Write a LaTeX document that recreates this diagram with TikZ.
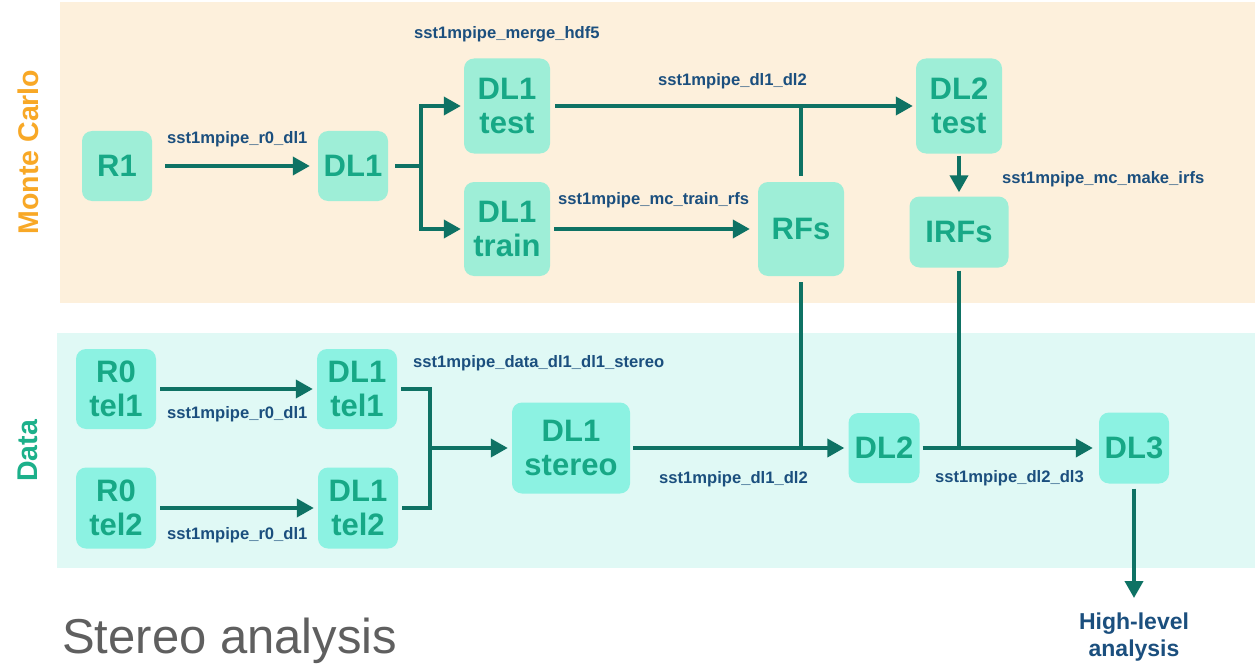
\documentclass[tikz,border=0pt]{standalone}
\usepackage{fontspec}
\setmainfont{Liberation Sans}
\usetikzlibrary{arrows.meta}
\definecolor{mcbg}{HTML}{FDF0DC}
\definecolor{databg}{HTML}{E0F9F5}
\definecolor{mcbox}{HTML}{9EEED7}
\definecolor{databox}{HTML}{8CF2E2}
\definecolor{boxtxt}{HTML}{17A886}
\definecolor{arrc}{HTML}{0E7264}
\definecolor{lblc}{HTML}{1B4F7E}
\definecolor{mcorange}{HTML}{F8A826}
\definecolor{datagreen}{HTML}{1CB08A}
\definecolor{titlegray}{HTML}{5F5F5F}
\tikzset{
  mcb/.style={fill=mcbox, rounded corners=10pt, inner sep=0pt, align=center,
    text=boxtxt, font=\fontsize{31}{34}\selectfont\bfseries},
  dtb/.style={mcb, fill=databox},
  ln/.style={draw=arrc, line width=3.8pt},
  arr/.style={ln, -{Triangle[length=17pt,width=18pt]}},
  lbl/.style={text=lblc, font=\fontsize{16.6}{19}\selectfont\bfseries, inner sep=0pt, anchor=base west}
}
\begin{document}
\begin{tikzpicture}[x=1pt,y=-1pt]
\useasboundingbox (0,0) rectangle (1255,666);
\fill[white] (0,0) rectangle (1255,666);
% backgrounds
\fill[mcbg] (60,2) rectangle (1255,303);
\fill[databg] (57,333) rectangle (1255,568);
% side titles
\node[rotate=90, text=mcorange, font=\fontsize{28.5}{30}\selectfont\bfseries] (mclab) at (28,152) {Monte Carlo};
\node[rotate=90, text=datagreen, font=\fontsize{28.5}{30}\selectfont\bfseries] (datalab) at (28,451) {Data};
\node[text=titlegray, font=\fontsize{49}{52}\selectfont, anchor=base west, inner sep=0pt] (title) at (62,653) {Stereo analysis};
% MC boxes
\node[mcb, minimum width=70pt, minimum height=70pt] (r1) at (117,166) {R1};
\node[mcb, minimum width=70pt, minimum height=70pt] (dl1) at (353,166) {DL1};
\node[mcb, minimum width=86pt, minimum height=95pt] (dl1test) at (507,106) {DL1\\test};
\node[mcb, minimum width=86pt, minimum height=94pt] (dl1train) at (507,229) {DL1\\train};
\node[mcb, minimum width=86pt, minimum height=94pt] (rfs) at (801,229) {RFs};
\node[mcb, minimum width=86pt, minimum height=95pt] (dl2test) at (959,106) {DL2\\test};
\node[mcb, minimum width=99pt, minimum height=71pt] (irfs) at (959,232) {IRFs};
% Data boxes
\node[dtb, minimum width=80pt, minimum height=80pt] (r0t1) at (116,389) {R0\\tel1};
\node[dtb, minimum width=80pt, minimum height=81pt] (r0t2) at (116,508) {R0\\tel2};
\node[dtb, minimum width=80pt, minimum height=80pt] (dl1t1) at (357,389) {DL1\\tel1};
\node[dtb, minimum width=80pt, minimum height=81pt] (dl1t2) at (358,508) {DL1\\tel2};
\node[dtb, minimum width=118pt, minimum height=91pt] (dl1st) at (571,448) {DL1\\stereo};
\node[dtb, minimum width=71pt, minimum height=70pt] (dl2) at (884,448) {DL2};
\node[dtb, minimum width=70pt, minimum height=71pt] (dl3) at (1134,448) {DL3};
\node[text=lblc, font=\fontsize{23}{27}\selectfont\bfseries, align=center, inner sep=0pt, anchor=north] (hla) at (1134,613) {High-level\\analysis};
% coordinates
\coordinate (split) at (421,166);
\coordinate (mx) at (430,448);
% MC connectors
\draw[arr, shorten <=13pt, shorten >=8pt] (r1) -- (dl1);
\draw[ln, shorten <=7pt] (dl1) -- (split);
\draw[arr, shorten >=3pt] (split) |- (dl1test.west);
\draw[arr, shorten >=3pt] (split) |- (dl1train.west);
\draw[arr, shorten <=5pt, shorten >=3pt] (dl1test) -- (dl2test);
\draw[ln, shorten <=6pt] (rfs.north) -- (rfs.north |- dl1test.east);
\draw[arr, shorten <=4pt, shorten >=8pt] (dl1train) -- (rfs);
\draw[arr, shorten <=2pt, shorten >=4pt] (dl2test) -- (irfs);
% Data connectors
\draw[arr, shorten <=4pt, shorten >=4pt] (r0t1) -- (dl1t1);
\draw[arr, shorten <=4pt, shorten >=4pt] (r0t2) -- (dl1t2);
\draw[ln, shorten <=4pt, shorten >=4pt] (dl1t1.east) -| (mx) |- (dl1t2.east);
\draw[arr, shorten >=4pt] (mx) -- (dl1st.west);
\draw[arr, shorten <=3pt, shorten >=4pt] (dl1st) -- (dl2);
\draw[ln, shorten <=6pt] (rfs.south) -- (rfs.south |- dl2.west);
\draw[arr, shorten <=3pt, shorten >=6pt] (dl2) -- (dl3);
\draw[ln, shorten <=3pt] (irfs.south) -- (irfs.south |- dl3.west);
\draw[arr, shorten <=5pt, shorten >=15pt] (dl3) -- (hla);
% labels
\node[lbl] (l1) at (167,143) {sst1mpipe\_r0\_dl1};
\node[lbl] (l2) at (414,39) {sst1mpipe\_merge\_hdf5};
\node[lbl] (l3) at (658,86) {sst1mpipe\_dl1\_dl2};
\node[lbl] (l4) at (558,204) {sst1mpipe\_mc\_train\_rfs};
\node[lbl] (l5) at (1002,183) {sst1mpipe\_mc\_make\_irfs};
\node[lbl] (l6) at (167,418) {sst1mpipe\_r0\_dl1};
\node[lbl] (l7) at (167,539) {sst1mpipe\_r0\_dl1};
\node[lbl] (l8) at (413,367) {sst1mpipe\_data\_dl1\_dl1\_stereo};
\node[lbl] (l9) at (659,483) {sst1mpipe\_dl1\_dl2};
\node[lbl] (l10) at (935,482) {sst1mpipe\_dl2\_dl3};
\end{tikzpicture}
\end{document}
